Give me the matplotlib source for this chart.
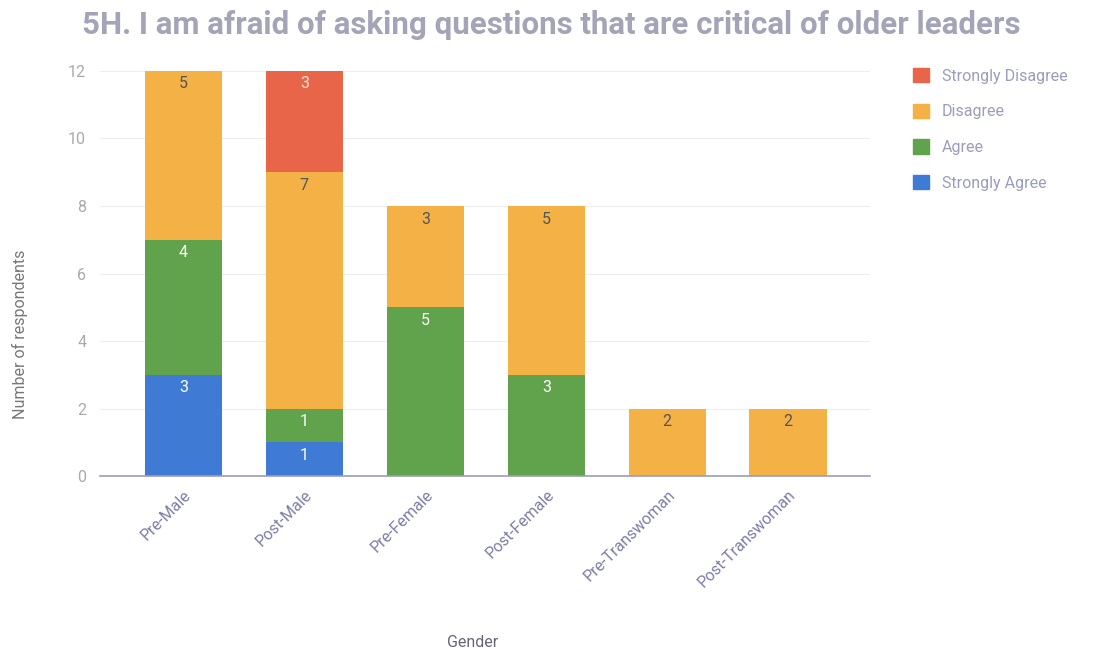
import numpy as np
import matplotlib.pyplot as plt
from matplotlib.patches import Patch

plt.rcParams['font.family'] = ['Roboto', 'DejaVu Sans']

groups = ['Pre-Male', 'Post-Male', 'Pre-Female', 'Post-Female',
          'Pre-Transwoman', 'Post-Transwoman']
# stacked bottom -> top
strongly_agree = [3, 1, 0, 0, 0, 0]
agree = [4, 1, 5, 3, 0, 0]
disagree = [5, 7, 3, 5, 2, 2]
strongly_disagree = [0, 3, 0, 0, 0, 0]

series = [
    ('Strongly Agree', strongly_agree, '#3f7bd4', 'white'),
    ('Agree', agree, '#61a34c', 'white'),
    ('Disagree', disagree, '#f4b145', '#555555'),
    ('Strongly Disagree', strongly_disagree, '#e8654a', '#fbe2d8'),
]

fig = plt.figure(figsize=(10.99, 6.56), dpi=100)
ax = fig.add_axes([0.091, 0.274, 0.701, 0.618])

x = np.arange(len(groups))
bottom = np.zeros(len(groups))
for name, vals, col, txtcol in series:
    vals = np.array(vals, dtype=float)
    ax.bar(x, vals, width=0.64, bottom=bottom, color=col, zorder=2)
    for xi, b, v in zip(x, bottom, vals):
        if v > 0:
            ax.annotate(f'{int(v)}', (xi, b + v), xytext=(0, -4),
                        textcoords='offset points', ha='center', va='top',
                        fontsize=11.5, color=txtcol, zorder=3)
    bottom += vals

ax.set_xlim(-0.69, 5.68)
ax.set_ylim(0, 12)
ax.set_yticks(range(0, 13, 2))
ax.grid(axis='y', color='#eeeeee', linewidth=0.8, zorder=0)
for s in ['top', 'right', 'left']:
    ax.spines[s].set_visible(False)
ax.spines['bottom'].set_color('#9a9cc0')
ax.spines['bottom'].set_linewidth(1.2)
ax.tick_params(axis='both', length=0)
ax.tick_params(axis='y', colors='#aaaaaa', labelsize=11.5, pad=10)
ax.set_xticks(x)
ax.set_xticklabels(groups, rotation=45, ha='right', rotation_mode='anchor',
                   color='#7c7fa6', fontsize=11.5)
ax.tick_params(axis='x', pad=8)

fig.text(0.018, 0.49, 'Number of respondents', color='#777777', fontsize=11.5,
         rotation=90, ha='center', va='center')
fig.text(0.43, 0.02, 'Gender', color='#666677', fontsize=11.5,
         ha='center', va='center')

fig.text(0.075, 0.962, '5H. I am afraid of asking questions that are critical of older leaders',
         fontsize=22.5, fontweight='bold', color='#a4a4b8', va='center', ha='left')

handles = [Patch(color=c) for _, _, c, _ in series[::-1]]
labels = [n for n, _, _, _ in series[::-1]]
fig.legend(handles, labels, loc='upper left', bbox_to_anchor=(0.818, 0.918),
           frameon=False, fontsize=11.5, labelcolor='#9a9dbb',
           handlelength=1.0, handleheight=1.0, handletextpad=0.8,
           labelspacing=1.25)

fig.savefig('out.png', dpi=100)
